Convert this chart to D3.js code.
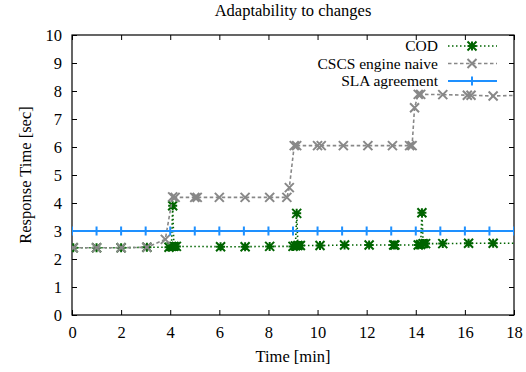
<!DOCTYPE html>
<html>
<head>
<meta charset="utf-8">
<script src="https://cdn.jsdelivr.net/npm/d3@7"></script>
<style>
  body { margin: 0; background: #fff; }
  svg text { font-family: "Liberation Serif", "Times New Roman", Times, serif; fill: #000; }
</style>
</head>
<body>
<svg id="chart"></svg>
<script>
// data: [minute, seconds]
const codTimes = [0.05, 1.0, 2.0, 3.05, 3.95, 4.05, 4.1, 4.15, 4.25, 6.05, 7.05, 8.05, 9.0, 9.1, 9.15, 9.2, 9.3, 10.1, 11.1, 12.1, 13.1, 13.15, 14.1, 14.2, 14.25, 14.3, 14.4, 15.1, 16.15, 17.15, 18.3];
const codValues = [2.4, 2.4, 2.4, 2.42, 2.42, 2.45, 3.9, 2.45, 2.45, 2.44, 2.44, 2.45, 2.45, 2.47, 3.63, 2.48, 2.48, 2.48, 2.5, 2.5, 2.5, 2.5, 2.5, 2.52, 3.65, 2.55, 2.55, 2.55, 2.56, 2.56, 2.56];

const cscsTimes = [0.05, 1.0, 2.0, 3.05, 3.8, 4.1, 4.2, 5.0, 5.1, 6.0, 7.05, 8.05, 8.75, 8.85, 9.05, 9.15, 10.0, 10.15, 11.05, 12.05, 13.05, 13.75, 13.85, 13.95, 14.1, 14.2, 15.1, 16.1, 16.25, 17.15, 18.3];
const cscsValues = [2.4, 2.4, 2.4, 2.42, 2.7, 4.22, 4.2, 4.2, 4.2, 4.2, 4.2, 4.2, 4.2, 4.55, 6.05, 6.05, 6.05, 6.05, 6.05, 6.05, 6.05, 6.05, 6.05, 7.4, 7.88, 7.88, 7.87, 7.85, 7.85, 7.82, 7.85];

const slaTimes = [0, 1, 2, 3, 4, 5, 6, 7, 8, 9, 10, 11, 12, 13, 14, 15, 16, 17, 18];
const slaValue = 3;

const xTicks = [0, 2, 4, 6, 8, 10, 12, 14, 16, 18];
const yTicks = [0, 1, 2, 3, 4, 5, 6, 7, 8, 9, 10];

const width = 526, height = 372;
const margin = { left: 72, right: 12, top: 35, bottom: 57 };
const fs = 16.5;
const legFs = 15.5;
const serif = '"Liberation Serif", "Times New Roman", Times, serif';

const svg = d3.select("#chart").attr("width", width).attr("height", height);

const x = d3.scaleLinear().domain([0, 18]).range([margin.left, width - margin.right]);
const y = d3.scaleLinear().domain([0, 10]).range([height - margin.bottom, margin.top]);

svg.append("clipPath").attr("id", "plotclip")
  .append("rect")
  .attr("x", x(0)).attr("y", y(10))
  .attr("width", x(18) - x(0)).attr("height", y(0) - y(10));

// axes: gnuplot style, ticks inward and mirrored
const tl = 5;
svg.append("g").attr("transform", `translate(0,${y(0)})`)
  .call(d3.axisBottom(x).tickValues(xTicks).tickSizeInner(-tl).tickSizeOuter(0).tickPadding(11))
  .call(g => g.select(".domain").remove());
svg.append("g").attr("transform", `translate(0,${y(10)})`)
  .call(d3.axisTop(x).tickValues(xTicks).tickSizeInner(-tl).tickSizeOuter(0).tickFormat(""))
  .call(g => g.select(".domain").remove());
svg.append("g").attr("transform", `translate(${x(0)},0)`)
  .call(d3.axisLeft(y).tickValues(yTicks).tickSizeInner(-tl).tickSizeOuter(0).tickPadding(10))
  .call(g => g.select(".domain").remove());
svg.append("g").attr("transform", `translate(${x(18)},0)`)
  .call(d3.axisRight(y).tickValues(yTicks).tickSizeInner(-tl).tickSizeOuter(0).tickFormat(""))
  .call(g => g.select(".domain").remove());

svg.selectAll("g").attr("font-family", serif);
svg.selectAll(".tick text")
  .attr("font-size", fs)
  .attr("font-family", serif)
  .attr("fill", "#000");
svg.selectAll(".tick line").attr("stroke", "#000");

svg.append("rect")
  .attr("x", x(0)).attr("y", y(10))
  .attr("width", x(18) - x(0)).attr("height", y(0) - y(10))
  .attr("fill", "none").attr("stroke", "#000").attr("stroke-width", 1.2);

// marker shapes
const s = 4.5;
function markX(px, py) {
  return `M${px - s},${py - s}L${px + s},${py + s}M${px - s},${py + s}L${px + s},${py - s}`;
}
function markPlus(px, py) {
  return `M${px - s},${py}L${px + s},${py}M${px},${py - s}L${px},${py + s}`;
}
function markStar(px, py) {
  return markX(px, py) + markPlus(px, py);
}

const plot = svg.append("g").attr("clip-path", "url(#plotclip)");

const series = [
  { name: "COD", times: codTimes, values: codValues, color: "#006400", dash: "1.5,2.5", width: 1.6, mark: markStar },
  { name: "CSCS engine naive", times: cscsTimes, values: cscsValues, color: "#888888", dash: "3.5,2.5", width: 1.6, mark: markX },
  { name: "SLA agreement", times: slaTimes, values: slaTimes.map(() => slaValue), color: "#1e90ff", dash: null, width: 2, mark: markPlus }
];

const line = d3.line().x(d => x(d[0])).y(d => y(d[1]));

series.forEach(sr => {
  const pts = sr.times.map((t, i) => [t, sr.values[i]]);
  plot.append("path")
    .attr("d", line(pts))
    .attr("fill", "none")
    .attr("stroke", sr.color)
    .attr("stroke-width", sr.width)
    .attr("stroke-dasharray", sr.dash);
  plot.append("path")
    .attr("d", pts.map(p => sr.mark(x(p[0]), y(p[1]))).join(""))
    .attr("fill", "none")
    .attr("stroke", sr.color)
    .attr("stroke-width", 2);
});

// legend
const legRows = [46, 63.5, 81];
series.forEach((sr, i) => {
  const ly = legRows[i];
  svg.append("text").attr("x", 438).attr("y", ly).attr("dy", "0.33em")
    .attr("text-anchor", "end").attr("font-size", legFs).attr("font-family", serif).text(sr.name);
  svg.append("line").attr("x1", 448).attr("x2", 497).attr("y1", ly).attr("y2", ly)
    .attr("stroke", sr.color).attr("stroke-width", sr.width).attr("stroke-dasharray", sr.dash);
  svg.append("path").attr("d", sr.mark(472, ly)).attr("fill", "none")
    .attr("stroke", sr.color).attr("stroke-width", 2);
});

// title and axis labels
svg.append("text").attr("x", (x(0) + x(18)) / 2).attr("y", 16)
  .attr("text-anchor", "middle").attr("font-size", fs).attr("font-family", serif).text("Adaptability to changes");
svg.append("text").attr("x", (x(0) + x(18)) / 2).attr("y", 362)
  .attr("text-anchor", "middle").attr("font-size", fs).attr("font-family", serif).text("Time [min]");
svg.append("text").attr("transform", `translate(31,${(y(0) + y(10)) / 2}) rotate(-90)`)
  .attr("text-anchor", "middle").attr("font-size", fs).attr("font-family", serif).text("Response Time [sec]");
</script>
</body>
</html>
